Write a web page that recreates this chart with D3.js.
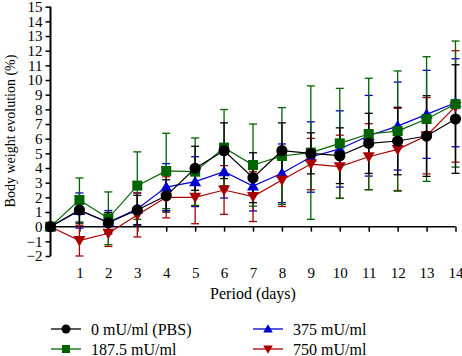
<!DOCTYPE html>
<html>
<head>
<meta charset="utf-8">
<script src="https://cdn.jsdelivr.net/npm/d3@7"></script>
<style>
  body { margin: 0; background: #fff; }
  text { font-family: "Liberation Serif", "DejaVu Serif", serif; }
</style>
</head>
<body>
<svg id="chart"></svg>
<script>
// days and group means / errors (% body weight change)
const days = [0, 1, 2, 3, 4, 5, 6, 7, 8, 9, 10, 11, 12, 13, 14];

const pbsMean = [0, 1.14, 0.27, 1.14, 2.1, 3.98, 5.18, 3.34, 5.18, 5.0, 4.84, 5.68, 5.84, 6.18, 7.34];
const pbsErr  = [0, 0.9, 0.7, 1.0, 1.1, 1.5, 1.9, 1.7, 1.9, 1.4, 1.9, 2.05, 2.3, 2.75, 3.7];

const g187Mean = [0, 1.82, 0.57, 2.8, 3.8, 3.75, 5.39, 4.2, 4.82, 5.05, 5.68, 6.32, 6.52, 7.34, 8.36];
const g187Err  = [0, 1.5, 1.8, 2.3, 2.57, 2.3, 2.6, 2.8, 3.3, 4.55, 3.75, 3.8, 4.1, 4.25, 4.3];

const g375Mean = [0, 1.1, 0.3, 1.2, 2.7, 3.07, 3.75, 2.77, 3.64, 4.75, 5.3, 6.2, 6.86, 7.66, 8.45];
const g375Err  = [0, 1.2, 0.8, 1.1, 1.6, 1.7, 1.8, 1.7, 2.0, 2.4, 2.6, 2.75, 3.0, 3.0, 3.0];

const g750Mean = [0, -0.95, -0.45, 0.8, 2.0, 2.0, 2.5, 2.05, 3.18, 4.27, 4.09, 4.77, 5.27, 6.2, 8.2];
const g750Err  = [0, 1.05, 0.9, 1.5, 1.4, 1.8, 1.66, 1.7, 1.8, 1.75, 2.15, 2.25, 2.8, 2.6, 3.8];

const yTicks = d3.range(-2, 16);
const xTicks = d3.range(1, 15);

const series = [
  {name: '375 mU/ml', mean: g375Mean, err: g375Err, color: '#0000cc', shape: 'up'},
  {name: '750 mU/ml', mean: g750Mean, err: g750Err, color: '#a80000', shape: 'down'},
  {name: '187.5 mU/ml', mean: g187Mean, err: g187Err, color: '#006400', shape: 'square'},
  {name: '0 mU/ml (PBS)', mean: pbsMean, err: pbsErr, color: '#000000', shape: 'circle'}
];
const legendOrder = ['0 mU/ml (PBS)', '375 mU/ml', '187.5 mU/ml', '750 mU/ml'];

const width = 462, height = 356;
const svg = d3.select('#chart').attr('width', width).attr('height', height);

const x = d3.scaleLinear().domain([0, 14]).range([50.5, 455.5]);
const y = d3.scaleLinear().domain([-2, 15]).range([256, 6.7]);

// marker drawing, k scales the size (legend uses smaller ones)
function marker(g, shape, color, k = 1) {
  if (shape === 'circle') {
    g.append('circle').attr('r', 5.6 * k).attr('fill', color);
  } else if (shape === 'square') {
    g.append('rect').attr('x', -5 * k).attr('y', -5 * k)
        .attr('width', 10 * k).attr('height', 10 * k).attr('fill', color);
  } else if (shape === 'up') {
    g.append('path').attr('d', `M0,${-6 * k}L${6 * k},${4.5 * k}L${-6 * k},${4.5 * k}Z`).attr('fill', color);
  } else {
    g.append('path').attr('d', `M0,${6 * k}L${6 * k},${-4.5 * k}L${-6 * k},${-4.5 * k}Z`).attr('fill', color);
  }
}

// y axis
const yAxisG = svg.append('g')
    .attr('transform', `translate(${x(0)},0)`)
    .call(d3.axisLeft(y).tickValues(yTicks).tickSize(5).tickPadding(3)
      .tickFormat(d => d < 0 ? '\u2212' + Math.abs(d) : d));
yAxisG.select('.domain').attr('stroke-width', 2).attr('d', `M0,${y(-2)}V${y(15)}`);
yAxisG.selectAll('.tick line').attr('stroke-width', 1.5);
yAxisG.selectAll('text').style('font-size', '15px').style('font-family', '"Liberation Serif", serif').attr('fill', '#000');

// x axis at zero, labels pushed below the plot
const xAxisG = svg.append('g')
    .attr('transform', `translate(0,${y(0)})`)
    .call(d3.axisBottom(x).tickValues(xTicks).tickSize(5).tickPadding(36));
xAxisG.select('.domain').attr('stroke-width', 1.5).attr('d', `M${x(0)},0H${x(14)}`);
xAxisG.selectAll('.tick line').attr('stroke-width', 1.5);
xAxisG.selectAll('text').style('font-size', '15px').style('font-family', '"Liberation Serif", serif').attr('fill', '#000');

// axis titles
svg.append('text')
    .attr('transform', `translate(15,131) rotate(-90)`)
    .attr('text-anchor', 'middle')
    .style('font-size', '14px')
    .text('Body weight evolution (%)');

svg.append('text')
    .attr('x', 253).attr('y', 299)
    .attr('text-anchor', 'middle')
    .style('font-size', '16px')
    .text('Period (days)');

// error bars
series.forEach(s => {
  const eb = svg.append('g').attr('stroke', s.color).attr('stroke-width', 1.3);
  days.forEach((d, i) => {
    if (s.err[i] === 0) return;
    const cx = x(d), top = y(s.mean[i] + s.err[i]), bot = y(s.mean[i] - s.err[i]);
    eb.append('line').attr('x1', cx).attr('x2', cx).attr('y1', top).attr('y2', bot);
    eb.append('line').attr('x1', cx - 4).attr('x2', cx + 4).attr('y1', top).attr('y2', top);
    eb.append('line').attr('x1', cx - 4).attr('x2', cx + 4).attr('y1', bot).attr('y2', bot);
  });
});

// lines and markers
const line = d3.line().x((d, i) => x(days[i])).y(d => y(d));
series.forEach(s => {
  svg.append('path')
      .attr('d', line(s.mean))
      .attr('fill', 'none')
      .attr('stroke', s.color)
      .attr('stroke-width', 1.2);
  days.forEach((d, i) => {
    const g = svg.append('g').attr('transform', `translate(${x(d)},${y(s.mean[i])})`);
    marker(g, s.shape, s.color);
  });
});

// legend
const legendPos = [[51, 329], [253, 329], [51, 349], [253, 349]];
legendOrder.forEach((name, k) => {
  const s = series.find(t => t.name === name);
  const [lx, ly] = legendPos[k];
  const g = svg.append('g').attr('transform', `translate(${lx},${ly})`);
  g.append('line').attr('x1', 0).attr('x2', 30).attr('y1', 0).attr('y2', 0)
      .attr('stroke', s.color).attr('stroke-width', 1.3);
  const m = g.append('g').attr('transform', 'translate(15,0)');
  marker(m, s.shape, s.color, 0.8);
  g.append('text').attr('x', 40).attr('y', 5.5)
      .style('font-size', '16px')
      .text(name);
});
</script>
</body>
</html>
